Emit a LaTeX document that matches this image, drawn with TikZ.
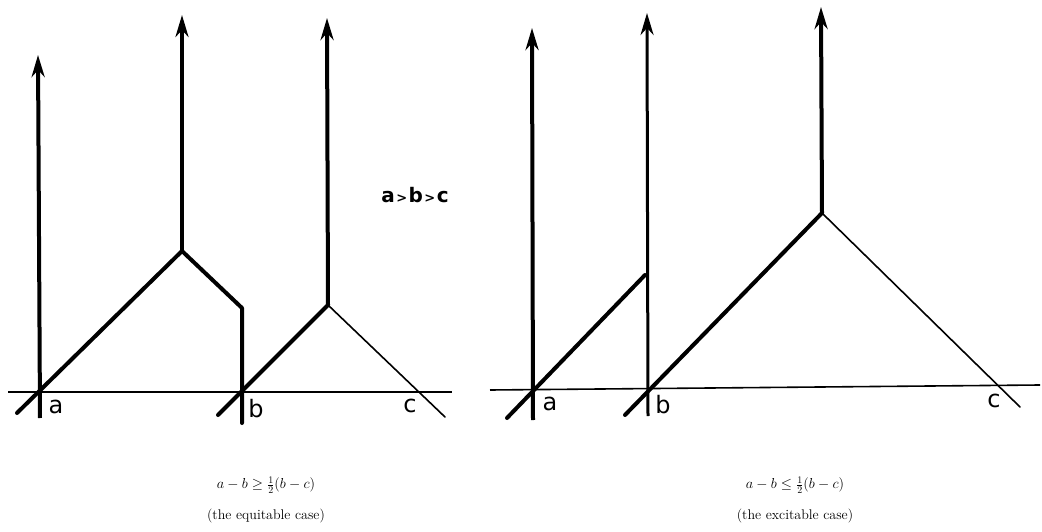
\documentclass[tikz,border=0pt]{standalone}
\usepackage{fontspec}
\newfontfamily\hand{DejaVu Sans}
\usetikzlibrary{arrows.meta}
\begin{document}
\begin{tikzpicture}[x=1pt,y=-1pt,
  thickln/.style={line width=4pt, line cap=round, line join=round},
  thinln/.style={line width=1.6pt, line cap=round},
  axisln/.style={line width=1.6pt},
  uparrow/.style={line width=4pt, -{Stealth[length=22pt,width=13pt,inset=7pt]}},
  lbl/.style={font=\hand\fontsize{24}{24}\selectfont, anchor=base, inner sep=0pt},
  captext/.style={font=\fontsize{14}{31}\selectfont, align=center, anchor=center, inner sep=0pt}
]
\useasboundingbox (0,0) rectangle (1042,532);
% ---------- left diagram ----------
\coordinate (LaxL) at (8,392);
\coordinate (LaxR) at (452,392);
\coordinate (LaBot) at (40,418);
\coordinate (LaTop) at (38,55);
\coordinate (LaDiag) at (17,413);
\coordinate (LJ1) at (182,251);
\coordinate (LJ1top) at (182,15);
\coordinate (LK) at (242,308);
\coordinate (LbBot) at (242,423);
\coordinate (LbDiag) at (218,415);
\coordinate (LJ2) at (328,305);
\coordinate (LJ2top) at (327,18);
\coordinate (LcEnd) at (445,417);
\draw[axisln] (LaxL) -- (LaxR);
\draw[thickln] (LaDiag) -- (LJ1) -- (LK) -- (LbBot);
\draw[uparrow] (LaBot) -- (LaTop);
\draw[uparrow] (LJ1) -- (LJ1top);
\draw[thickln] (LbDiag) -- (LJ2);
\draw[uparrow] (LJ2) -- (LJ2top);
\draw[thinln] (LJ2) -- (LcEnd);
\node[lbl] (la1) at (56,413) {a};
\node[lbl] (lb1) at (256,417) {b};
\node[lbl] (lc1) at (410,412) {c};
% ---------- order label ----------
\node[font=\hand\bfseries\fontsize{20}{20}\selectfont, anchor=base, inner sep=0pt] (ord) at (415,203)
  {a\kern1.5pt{\fontsize{13}{13}\selectfont >}\kern1.5pt b\kern1.5pt{\fontsize{13}{13}\selectfont >}\kern1.5pt c};
% ---------- right diagram ----------
\coordinate (RaxL) at (490,390);
\coordinate (RaxR) at (1040,385);
\coordinate (RaBot) at (533,420);
\coordinate (RaTop) at (532,28);
\coordinate (RaDiag) at (507,418);
\coordinate (RJ1) at (645,275);
\coordinate (RbBot) at (648,416);
\coordinate (RbTop) at (647,13);
\coordinate (RbDiag) at (625,415);
\coordinate (RJ2) at (822,213);
\coordinate (RJ2top) at (821,7);
\coordinate (RcEnd) at (1020,407);
\draw[axisln] (RaxL) -- (RaxR);
\draw[thickln] (RaDiag) -- (RJ1);
\draw[uparrow] (RaBot) -- (RaTop);
\draw[uparrow, line width=3pt] (RbBot) -- (RbTop);
\draw[thickln] (RbDiag) -- (RJ2);
\draw[uparrow] (RJ2) -- (RJ2top);
\draw[thinln] (RJ2) -- (RcEnd);
\node[lbl] (ra1) at (550,410) {a};
\node[lbl] (rb1) at (663,413) {b};
\node[lbl] (rc1) at (994,407) {c};
% ---------- captions ----------
\node[captext] (capL) at (266,500) {$a - b \geq \frac{1}{2}(b-c)$\\(the equitable case)};
\node[captext] (capR) at (795,500) {$a - b \leq \frac{1}{2}(b-c)$\\(the excitable case)};
\end{tikzpicture}
\end{document}
